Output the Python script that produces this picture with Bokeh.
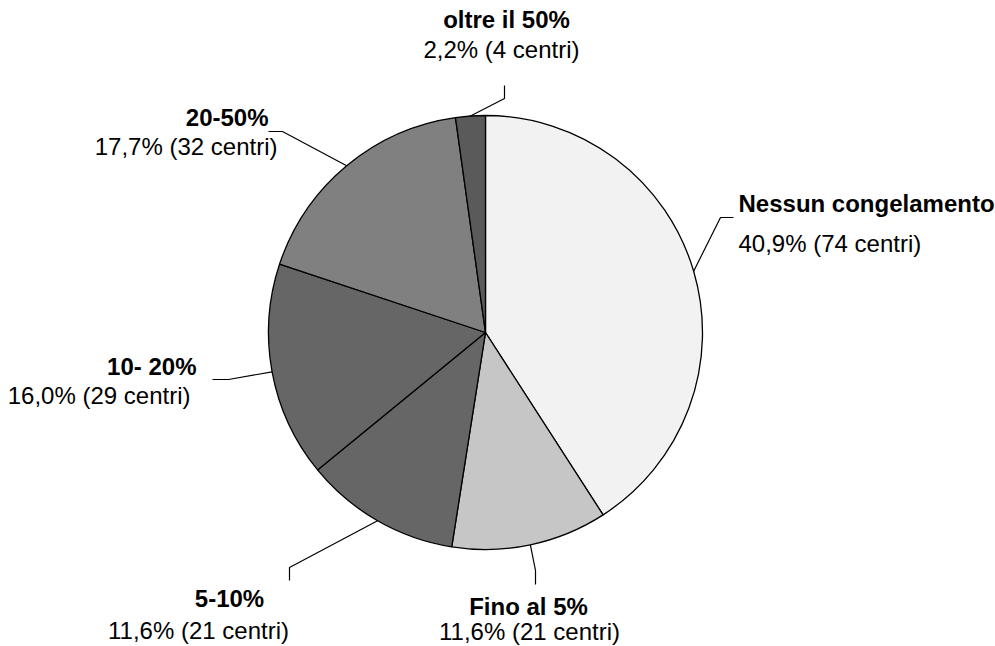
import math

from bokeh.core.properties import value
from bokeh.embed import file_html
from bokeh.models import ColumnDataSource, Range1d
from bokeh.plotting import figure
from bokeh.resources import INLINE

# Share of centres by fraction of frozen material
categories = ["Nessun congelamento", "Fino al 5%", "5-10%", "10- 20%", "20-50%", "oltre il 50%"]
centri = [74, 21, 21, 29, 32, 4]
colors = ["#f2f2f2", "#c6c6c6", "#666666", "#666666", "#808080", "#5a5a5a"]

W, H = 995, 646
CX, CY, R = 485, 332, 217  # pie centre/radius in page pixels (y down)

# Label layout (page pixels, y down): text anchor x, alignment,
# vertical position of the bold title and of the value line, and the
# elbow points of the leader line going from the slice edge outwards.
layout = [
    dict(x=738, align="left", y1=203, y2=243, elbow=[(720, 217), (733, 217)]),
    dict(x=528, align="center", y1=606, y2=631, elbow=[(535, 570), (535, 584)]),
    dict(x=229, align="center", y1=598, y2=630, elbow=[(289, 567), (289, 580)]),
    dict(x=196, align="right", y1=366, y2=395, elbow=[(228, 379), (212, 379)]),
    dict(x=268, align="right", y1=117, y2=146, elbow=[(282, 131), (268, 131)]),
    dict(x=506, align="center", y1=19, y2=49, elbow=[(504, 98), (504, 85)]),
]
value_x = [738, 529, 198, 190, 277, 501]
value_align = ["left", "center", "center", "right", "right", "center"]


def fy(y):
    return H - y


total = sum(centri)
fractions = [c / total for c in centri]

starts, ends, mids = [], [], []
acc = 0.0
for f in fractions:
    a0 = math.pi / 2 - 2 * math.pi * acc
    a1 = math.pi / 2 - 2 * math.pi * (acc + f)
    starts.append(a0)
    ends.append(a1)
    mids.append((a0 + a1) / 2)
    acc += f

value_texts = [
    f"{f * 100:.1f}".replace(".", ",") + f"% ({c} centri)" for f, c in zip(fractions, centri)
]

p = figure(
    width=W,
    height=H,
    output_backend="svg",
    toolbar_location=None,
    x_range=Range1d(0, W),
    y_range=Range1d(0, H),
    min_border=0,
)
p.axis.visible = False
p.grid.visible = False
p.outline_line_color = None
p.background_fill_color = "white"
p.border_fill_color = "white"

wedges = ColumnDataSource(dict(start=starts, end=ends, color=colors, cat=categories))
p.wedge(
    x=CX,
    y=fy(CY),
    radius=R,
    radius_units="screen",
    start_angle="start",
    end_angle="end",
    direction="clock",
    fill_color="color",
    line_color="black",
    line_width=1.3,
    source=wedges,
)

# Leader lines from each slice's mid-arc point
xs, ys = [], []
for m, lay in zip(mids, layout):
    px = CX + R * math.cos(m)
    py = CY - R * math.sin(m)
    lx = [px] + [e[0] for e in lay["elbow"]]
    ly = [fy(py)] + [fy(e[1]) for e in lay["elbow"]]
    xs.append(lx)
    ys.append(ly)
p.multi_line(xs=xs, ys=ys, line_color="black", line_width=1.2)

font = value("Liberation Sans")
for i, cat in enumerate(categories):
    lay = layout[i]
    p.text(
        x=[lay["x"]],
        y=[fy(lay["y1"])],
        text=[cat],
        text_font=font,
        text_font_style="bold",
        text_font_size="24px",
        text_align=lay["align"],
        text_baseline="middle",
        text_color="black",
    )
    p.text(
        x=[value_x[i]],
        y=[fy(lay["y2"])],
        text=[value_texts[i]],
        text_font=font,
        text_font_size="24px",
        text_align=value_align[i],
        text_baseline="middle",
        text_color="black",
    )

open("out.html", "w").write(file_html(p, INLINE))
